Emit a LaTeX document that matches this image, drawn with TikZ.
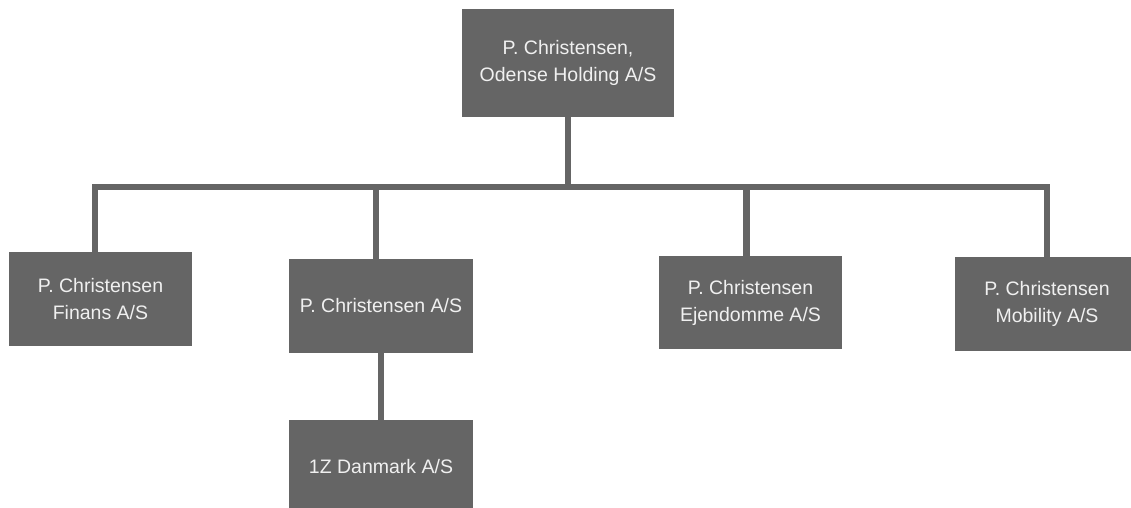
\documentclass[tikz,border=0pt]{standalone}
\usepackage{fontspec}
\setmainfont{Liberation Sans}
\definecolor{boxgray}{RGB}{101,101,101}
\definecolor{boxtext}{RGB}{240,240,240}

\begin{document}
\begin{tikzpicture}[x=1pt,y=-1pt]
\tikzset{unit/.style = {shape=rectangle,fill=boxgray,text=boxtext,align=center,
  minimum width=184pt,minimum height=94pt,inner sep=0pt,
  font=\fontsize{19.5}{27}\selectfont}}
\tikzset{link/.style = {-,draw=boxgray,line width=6.5pt}}
\useasboundingbox (0,0) rectangle (1131,508);
% companies
\node[unit,minimum width=212pt,minimum height=108pt] (top) at (568,63) {P. Christensen,\\Odense Holding A/S};
\node[unit,minimum width=183pt] (fin) at (100.5,299) {P. Christensen\\Finans A/S};
\node[unit] (cas) at (381,306) {P. Christensen A/S};
\node[unit,minimum width=183pt,minimum height=93pt] (ejd) at (750.5,302.5) {P. Christensen\\Ejendomme A/S};
\node[unit] (mob) at (1047,304) {P. Christensen\\Mobility A/S};
\node[unit] (dk) at (381,467) {1Z Danmark A/S};
% links
\draw[link] (top.south) -- ++(0,70) coordinate (hub);
\draw[link] ([xshift=-5.5pt]fin.north) |- (hub) -| (mob.north);
\draw[link] ([xshift=-5pt]cas.north) -- ([xshift=-5pt]cas.north |- hub);
\draw[link] ([xshift=-4pt]ejd.north) -- ([xshift=-4pt]ejd.north |- hub);
\draw[link] (cas.south) -- (dk.north);
\end{tikzpicture}
\end{document}
